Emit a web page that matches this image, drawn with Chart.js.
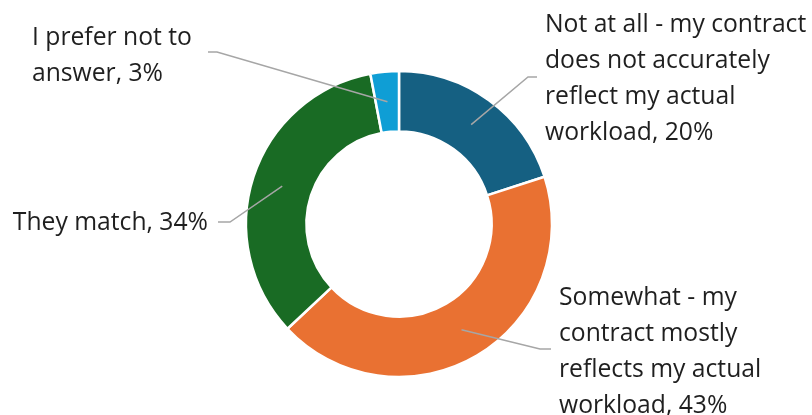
<!DOCTYPE html>
<html>
<head>
<meta charset="utf-8">
<script src="https://cdn.jsdelivr.net/npm/chart.js@4/dist/chart.umd.min.js"></script>
<style>
  html, body { margin: 0; padding: 0; background: #ffffff; }
  #wrap { width: 812px; height: 415px; position: relative; }
</style>
</head>
<body>
<div id="wrap"><canvas id="chart"></canvas></div>
<script>
// Survey answers: how well the contract reflects the actual workload
const categories = [
  'Not at all - my contract does not accurately reflect my actual workload',
  'Somewhat - my contract mostly reflects my actual workload',
  'They match',
  'I prefer not to answer'
];
const shares = [20, 43, 34, 3];
const sliceColors = ['#156082', '#E97132', '#196B24', '#0F9ED5'];

// Wrapped label lines for each slice (value appended from the data)
const labelLines = [
  ['Not at all - my contract', 'does not accurately', 'reflect my actual', 'workload, '],
  ['Somewhat - my', 'contract mostly', 'reflects my actual', 'workload, '],
  ['They match, '],
  ['I prefer not to', 'answer, ']
];

// Label placement: text origin (first baseline), alignment, and leader elbow
const labelLayout = [
  { x: 545, y: 32,  align: 'left',  elbow: [528, 77],  end: [537, 77] },
  { x: 559, y: 305, align: 'left',  elbow: [540, 349], end: [551, 349] },
  { x: 208, y: 230, align: 'right', elbow: [230, 222], end: [218, 222] },
  { x: 32,  y: 45,  align: 'left',  elbow: [217, 52],  end: [208, 52] }
];

const lineHeight = 36;
const labelFont = '24.7px "Open Sans", "Noto Sans", sans-serif';

const calloutPlugin = {
  id: 'callouts',
  afterDatasetsDraw(chart) {
    const c = chart.ctx;
    const meta = chart.getDatasetMeta(0);
    c.save();
    meta.data.forEach((arc, i) => {
      const lay = labelLayout[i];
      const p = arc.getCenterPoint();
      // leader line: from slice middle to elbow, then short horizontal run
      c.beginPath();
      c.strokeStyle = '#A6A6A6';
      c.lineWidth = 1.5;
      c.moveTo(p.x, p.y);
      c.lineTo(lay.elbow[0], lay.elbow[1]);
      c.lineTo(lay.end[0], lay.end[1]);
      c.stroke();
      // text
      c.fillStyle = '#1f1f1f';
      c.font = labelFont;
      c.textAlign = lay.align;
      c.textBaseline = 'alphabetic';
      const lines = labelLines[i].slice();
      lines[lines.length - 1] += shares[i] + '%';
      lines.forEach((t, k) => c.fillText(t, lay.x, lay.y + k * lineHeight));
    });
    c.restore();
  }
};

new Chart(document.getElementById('chart'), {
  type: 'doughnut',
  data: {
    labels: categories,
    datasets: [{
      data: shares,
      backgroundColor: sliceColors,
      borderColor: '#ffffff',
      borderWidth: 2.5,
      hoverOffset: 0
    }]
  },
  options: {
    responsive: true,
    maintainAspectRatio: false,
    animation: false,
    radius: 153,
    cutout: '60.5%',
    layout: { padding: { left: 0, right: 14, top: 33, bottom: 0 } },
    plugins: {
      legend: { display: false },
      tooltip: { enabled: false }
    }
  },
  plugins: [calloutPlugin]
});
</script>
</body>
</html>
